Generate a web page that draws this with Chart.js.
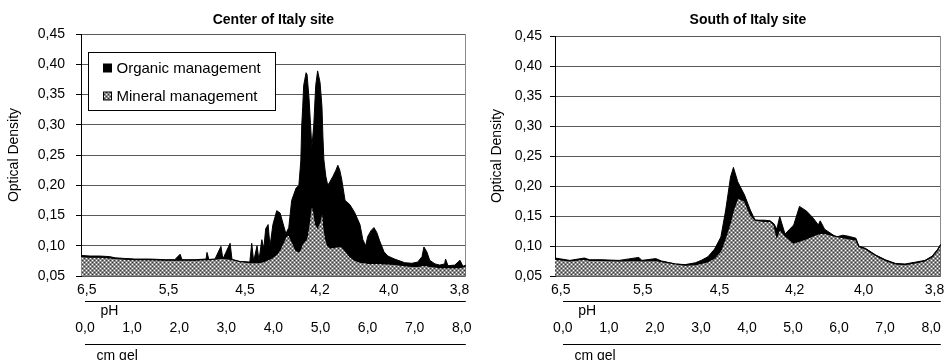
<!DOCTYPE html>
<html>
<head>
<meta charset="utf-8">
<title>Optical density profiles – Center and South of Italy</title>
<script src="https://cdn.jsdelivr.net/npm/chart.js@4.4.1/dist/chart.umd.min.js"></script>
<style>
    html, body { margin: 0; padding: 0; background: #fff; }
    .wrap { position: relative; width: 950px; height: 360px; }
    .panel { position: absolute; top: 0; width: 475px; height: 360px; }
    #centerPanel { left: 0; }
    #southPanel { left: 475px; }
</style>
</head>
<body>
<div class="wrap">
    <div class="panel" id="centerPanel"><canvas id="centerChart" width="475" height="360"></canvas></div>
    <div class="panel" id="southPanel"><canvas id="southChart" width="475" height="360"></canvas></div>
</div>
<script>
// Tick labels of the two bottom axes
const phLabels = ['6,5', '5,5', '4,5', '4,2', '4,0', '3,8'];
const phTickPos = [0.12, 1.82, 3.41, 4.97, 6.40, 7.87];
const cmTicks = [0, 1, 2, 3, 4, 5, 6, 7, 8];

// Center of Italy site: scan position along the gel (0-8) and optical density
const centerPos = [0.00, 0.19, 0.39, 0.60, 0.71, 0.91, 1.12, 1.43, 1.75, 1.95, 2.06, 2.10, 2.37, 2.60, 2.62, 2.66, 2.78, 2.91, 2.95, 3.10,
    3.14, 3.30, 3.51, 3.55, 3.59, 3.66, 3.70, 3.76, 3.80, 3.84, 3.89, 3.93, 3.99, 4.07, 4.14, 4.20, 4.26, 4.32, 4.38, 4.47,
    4.53, 4.57, 4.59, 4.61, 4.63, 4.68, 4.70, 4.74, 4.78, 4.80, 4.84, 4.88, 4.92, 4.97, 5.01, 5.03, 5.05, 5.09, 5.13, 5.17,
    5.24, 5.30, 5.34, 5.38, 5.42, 5.49, 5.59, 5.69, 5.80, 5.86, 5.92, 5.96, 6.03, 6.09, 6.15, 6.21, 6.30, 6.38, 6.52, 6.73,
    6.88, 7.00, 7.09, 7.13, 7.19, 7.25, 7.36, 7.46, 7.56, 7.58, 7.63, 7.77, 7.88, 7.94, 8.00];
const centerOrganic = [0.084, 0.083, 0.083, 0.082, 0.080, 0.079, 0.078, 0.078, 0.077, 0.077, 0.086, 0.077, 0.077, 0.078, 0.089, 0.077, 0.077, 0.099, 0.078, 0.104,
    0.077, 0.074, 0.073, 0.104, 0.074, 0.100, 0.076, 0.110, 0.095, 0.128, 0.135, 0.099, 0.135, 0.158, 0.154, 0.137, 0.120, 0.130, 0.175, 0.195,
    0.200, 0.240, 0.300, 0.330, 0.365, 0.386, 0.383, 0.345, 0.290, 0.262, 0.300, 0.365, 0.389, 0.370, 0.330, 0.280, 0.242, 0.215, 0.200, 0.205,
    0.215, 0.225, 0.233, 0.225, 0.210, 0.175, 0.168, 0.155, 0.135, 0.110, 0.100, 0.115, 0.125, 0.130, 0.122, 0.108, 0.090, 0.083, 0.078, 0.072,
    0.071, 0.073, 0.082, 0.098, 0.090, 0.076, 0.070, 0.068, 0.070, 0.078, 0.067, 0.068, 0.076, 0.066, 0.068];
const centerMineral = [0.082, 0.081, 0.081, 0.080, 0.079, 0.078, 0.077, 0.077, 0.076, 0.076, 0.076, 0.076, 0.076, 0.077, 0.077, 0.077, 0.078, 0.079, 0.079, 0.078,
    0.077, 0.074, 0.072, 0.072, 0.072, 0.072, 0.072, 0.073, 0.074, 0.075, 0.077, 0.078, 0.081, 0.086, 0.094, 0.104, 0.115, 0.118, 0.108, 0.092,
    0.090, 0.095, 0.100, 0.103, 0.106, 0.110, 0.115, 0.135, 0.160, 0.168, 0.155, 0.135, 0.130, 0.140, 0.155, 0.150, 0.130, 0.110, 0.100, 0.097,
    0.097, 0.098, 0.098, 0.099, 0.098, 0.092, 0.082, 0.076, 0.073, 0.072, 0.072, 0.071, 0.071, 0.071, 0.071, 0.071, 0.070, 0.070, 0.069, 0.067,
    0.066, 0.066, 0.067, 0.068, 0.067, 0.066, 0.065, 0.064, 0.064, 0.064, 0.064, 0.064, 0.064, 0.065, 0.066];

// South of Italy site
const southPos = [0.00, 0.31, 0.61, 0.72, 0.98, 1.33, 1.74, 1.80, 2.09, 2.21, 2.50, 2.70, 2.91, 3.03, 3.17, 3.31, 3.44, 3.54, 3.64, 3.70,
    3.79, 3.93, 4.05, 4.15, 4.34, 4.46, 4.54, 4.60, 4.66, 4.77, 4.95, 5.07, 5.22, 5.36, 5.46, 5.50, 5.59, 5.83, 5.97, 6.10,
    6.24, 6.30, 6.44, 6.65, 6.85, 7.06, 7.26, 7.47, 7.67, 7.82, 7.94, 8.00];
const southOrganic = [0.080, 0.076, 0.080, 0.077, 0.077, 0.076, 0.081, 0.076, 0.079, 0.075, 0.070, 0.069, 0.072, 0.076, 0.082, 0.095, 0.115, 0.160, 0.215, 0.231,
    0.207, 0.185, 0.160, 0.143, 0.143, 0.142, 0.137, 0.128, 0.149, 0.120, 0.135, 0.166, 0.158, 0.146, 0.135, 0.142, 0.128, 0.115, 0.118, 0.116,
    0.113, 0.100, 0.096, 0.085, 0.077, 0.071, 0.070, 0.073, 0.076, 0.083, 0.095, 0.103];
const southMineral = [0.078, 0.075, 0.078, 0.076, 0.076, 0.075, 0.076, 0.075, 0.076, 0.074, 0.070, 0.068, 0.069, 0.071, 0.074, 0.080, 0.092, 0.115, 0.140, 0.160,
    0.180, 0.175, 0.152, 0.143, 0.141, 0.141, 0.135, 0.115, 0.128, 0.117, 0.105, 0.108, 0.112, 0.117, 0.120, 0.121, 0.121, 0.116, 0.114, 0.112,
    0.110, 0.099, 0.095, 0.084, 0.076, 0.070, 0.069, 0.072, 0.075, 0.082, 0.094, 0.102];

Chart.defaults.font.family = "'Liberation Sans', Arial, sans-serif";
Chart.defaults.font.size = 14;
Chart.defaults.color = '#000';

/**
 * Small crosshatch tile used for the mineral series
 */
function hatchPattern() {
    const tile = document.createElement('canvas');
    tile.width = 4;
    tile.height = 4;
    const c = tile.getContext('2d');
    c.fillStyle = '#8c8c8c';
    c.fillRect(0, 0, 4, 4);
    c.fillStyle = '#ffffff';
    c.fillRect(0, 0, 1, 1);
    c.fillRect(2, 2, 1, 1);
    c.fillStyle = '#3c3c3c';
    c.fillRect(2, 0, 1, 1);
    c.fillRect(0, 2, 1, 1);
    return c.createPattern(tile, 'repeat');
}

/**
 * Boxed legend drawn inside the plot area (top left)
 */
const boxLegend = {
    id: 'boxLegend',
    afterDatasetsDraw(chart, args, opts) {
        if (!opts.display) return;
        const { ctx, chartArea } = chart;
        const x = Math.round(chartArea.left + opts.x) + 0.5;
        const y = Math.round(chartArea.top + opts.y) + 0.5;
        ctx.save();
        ctx.fillStyle = '#fff';
        ctx.fillRect(x, y, opts.width, opts.height);
        ctx.strokeStyle = '#000';
        ctx.lineWidth = 1;
        ctx.strokeRect(x, y, opts.width, opts.height);
        ctx.font = "15px 'Liberation Sans', Arial, sans-serif";
        ctx.textBaseline = 'middle';
        chart.data.datasets.forEach((ds, i) => {
            const rowY = Math.round(y + opts.firstRow + i * opts.rowGap);
            ctx.fillStyle = ds.backgroundColor;
            ctx.fillRect(x + 15, rowY - 4, 8, 8);
            ctx.strokeRect(x + 15, rowY - 4, 8, 8);
            ctx.fillStyle = '#000';
            ctx.fillText(ds.label, x + 28, rowY + 1);
        });
        ctx.restore();
    }
};

/**
 * Rules drawn under the pH and cm gel tick labels
 */
const axisRules = {
    id: 'axisRules',
    afterDraw(chart, args, opts) {
        const { ctx } = chart;
        ctx.save();
        ctx.strokeStyle = '#000';
        ctx.lineWidth = 1;
        [['xPh', opts.phOffset], ['xCm', opts.cmOffset]].forEach(([id, off]) => {
            const s = chart.scales[id];
            const y = Math.round(s.bottom - off) + 0.5;
            ctx.beginPath();
            ctx.moveTo(s.left + opts.inset, y);
            ctx.lineTo(s.right, y);
            ctx.stroke();
        });
        ctx.restore();
    }
};

const toPoints = (xs, ys) => xs.map((x, i) => ({ x: x, y: ys[i] }));
const comma = (v, d) => v.toFixed(d).replace('.', ',');

function buildChart(canvasId, cfg) {
    const ctx = document.getElementById(canvasId).getContext('2d');
    return new Chart(ctx, {
        type: 'line',
        data: {
            datasets: [
                {
                    label: 'Organic management',
                    data: toPoints(cfg.pos, cfg.organic),
                    order: 1,
                    borderColor: '#000',
                    backgroundColor: '#000',
                    borderWidth: 1,
                    fill: 'start',
                    pointRadius: 0,
                    tension: 0
                },
                {
                    label: 'Mineral management',
                    data: toPoints(cfg.pos, cfg.mineral),
                    order: 0,
                    borderColor: '#000',
                    backgroundColor: hatchPattern(),
                    borderWidth: 1.2,
                    fill: 'start',
                    pointRadius: 0,
                    tension: 0
                }
            ]
        },
        options: {
            responsive: false,
            animation: false,
            events: [],
            layout: { padding: { left: 0, right: cfg.padRight, top: 0, bottom: 0 } },
            plugins: {
                legend: { display: false },
                tooltip: { enabled: false },
                title: {
                    display: true,
                    text: cfg.title,
                    fullSize: false,
                    color: '#000',
                    font: { size: 14, weight: 'bold' },
                    padding: { top: 11.6, bottom: cfg.titleBottom }
                },
                boxLegend: cfg.legend,
                axisRules: { phOffset: 17, cmOffset: 16, inset: cfg.ruleInset }
            },
            scales: {
                x: { type: 'linear', display: false, min: 0, max: 8 },
                xPh: {
                    type: 'linear',
                    position: 'bottom',
                    weight: 0,
                    min: 0,
                    max: 8,
                    grid: { display: false, drawTicks: false, tickLength: 0 },
                    border: { display: false },
                    afterBuildTicks: s => { s.ticks = phTickPos.map(v => ({ value: v })); },
                    ticks: { autoSkip: false, maxRotation: 0, padding: 5.6, callback: (v, i) => phLabels[i] },
                    title: { display: true, text: cfg.phTitle, align: 'start', font: { size: 14, lineHeight: 1 }, padding: { top: 0, bottom: 0 } },
                    afterFit: s => { s.height = 42; }
                },
                xCm: {
                    type: 'linear',
                    position: 'bottom',
                    weight: 1,
                    min: cfg.cmMin,
                    max: cfg.cmMax,
                    grid: { display: false, drawTicks: false, tickLength: 0 },
                    border: { display: false },
                    afterBuildTicks: s => { s.ticks = cmTicks.map(v => ({ value: v })); },
                    ticks: { autoSkip: false, maxRotation: 0, padding: 1.6, callback: v => comma(v, 1) },
                    title: { display: true, text: cfg.cmTitle, align: 'start', font: { size: 14, lineHeight: 1 }, padding: { top: 0, bottom: -3 } },
                    afterFit: s => { s.height = 42; }
                },
                y: {
                    min: 0.05,
                    max: 0.45,
                    ticks: { stepSize: 0.05, padding: cfg.yPad, callback: v => comma(v, 2) },
                    grid: { color: '#5a5a5a', tickColor: '#000', tickLength: 5 },
                    border: { color: '#000', width: 1 },
                    title: { display: true, text: 'Optical Density', font: { size: 14 }, padding: { top: cfg.yTitlePad, bottom: 0 } },
                    afterFit: s => { s.width = cfg.yWidth; }
                },
                yEdge: {
                    position: 'right',
                    min: 0.05,
                    max: 0.45,
                    grid: { display: false, drawTicks: false },
                    ticks: { display: false },
                    border: { color: '#8a8a8a', width: 1 },
                    afterFit: s => { s.width = 0; }
                }
            }
        },
        plugins: [boxLegend, axisRules]
    });
}

buildChart('centerChart', {
    title: 'Center of Italy site',
    pos: centerPos,
    organic: centerOrganic,
    mineral: centerMineral,
    padRight: 9,
    titleBottom: 5.6,
    yWidth: 81,
    yPad: 11,
    yTitlePad: 5.6,
    cmMin: -0.085,
    cmMax: 8.085,
    ruleInset: 4,
    phTitle: '     pH',
    cmTitle: '    cm gel',
    legend: { display: true, x: 7, y: 18, width: 187, height: 58, firstRow: 15, rowGap: 28 }
});

buildChart('southChart', {
    title: 'South of Italy site',
    pos: southPos,
    organic: southOrganic,
    mineral: southMineral,
    padRight: 4,
    titleBottom: 7.6,
    yWidth: 80,
    yPad: 8,
    yTitlePad: 13.6,
    cmMin: -0.17,
    cmMax: 8.21,
    ruleInset: 8,
    phTitle: '      pH',
    cmTitle: '     cm gel',
    legend: { display: false }
});
</script>
</body>
</html>
